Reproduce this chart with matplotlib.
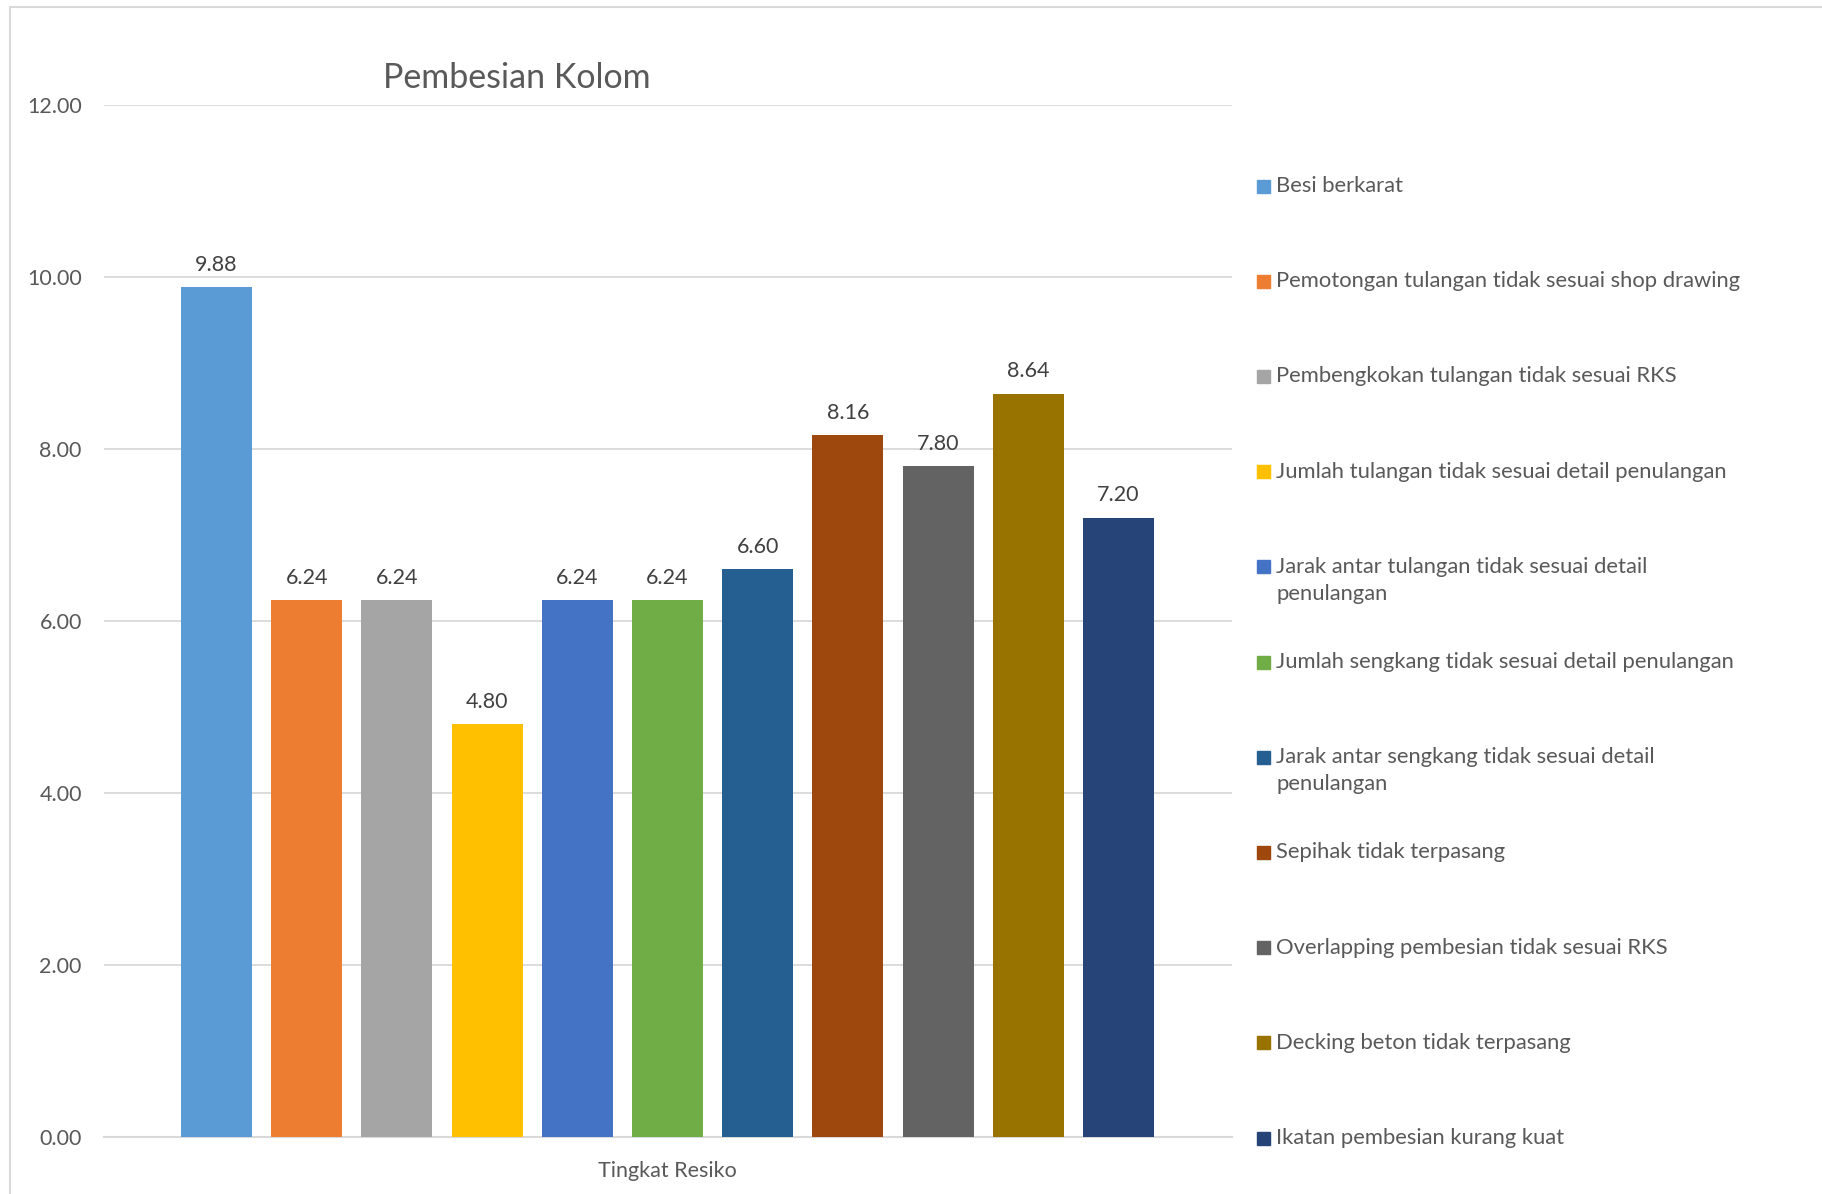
import matplotlib.pyplot as plt
from matplotlib.patches import Rectangle
from matplotlib.lines import Line2D

plt.rcParams['font.family'] = ['Lato', 'DejaVu Sans']

# data
categories = ['Besi berkarat',
              'Pemotongan tulangan tidak sesuai shop drawing',
              'Pembengkokan tulangan tidak sesuai RKS',
              'Jumlah tulangan tidak sesuai detail penulangan',
              'Jarak antar tulangan tidak sesuai detail\npenulangan',
              'Jumlah sengkang tidak sesuai detail penulangan',
              'Jarak antar sengkang tidak sesuai detail\npenulangan',
              'Sepihak tidak terpasang',
              'Overlapping pembesian tidak sesuai RKS',
              'Decking beton tidak terpasang',
              'Ikatan pembesian kurang kuat']
values = [9.88, 6.24, 6.24, 4.80, 6.24, 6.24, 6.60, 8.16, 7.80, 8.64, 7.20]
colors = ['#5B9BD5', '#ED7D31', '#A5A5A5', '#FFC000', '#4472C4', '#70AD47',
          '#255E91', '#9E480E', '#636363', '#997300', '#264478']
group_label = 'Tingkat Resiko'
yticks = [0, 2, 4, 6, 8, 10, 12]

W, H = 1822, 1194
fig = plt.figure(figsize=(W / 100, H / 100), dpi=100)
ax = fig.add_axes([104 / W, 1 - 1137 / H, 1128 / W, 1032 / H])

x = list(range(len(values)))
bars = ax.bar(x, values, width=0.787, color=colors, zorder=3)
ax.bar_label(bars, labels=['%.2f' % v for v in values], padding=9,
             fontsize=15.5, color='#404040')

ax.set_xlim(-1.247, 11.258)
ax.set_ylim(0, 12)
ax.set_yticks(yticks)
ax.set_yticklabels(['%.2f' % t for t in yticks])
ax.set_xticks([5])
ax.set_xticklabels([group_label])
ax.tick_params(axis='y', length=0, pad=16, labelsize=15.5, labelcolor='#595959')
ax.tick_params(axis='x', length=0, pad=17, labelsize=15.5, labelcolor='#595959')
ax.grid(axis='y', color='#D9D9D9', linewidth=1.3, zorder=0)
for s in ['top', 'right', 'left']:
    ax.spines[s].set_visible(False)
ax.spines['bottom'].set_color('#D9D9D9')
ax.spines['bottom'].set_linewidth(1.5)

fig.text(517 / W, 1 - 78 / H, 'Pembesian Kolom', ha='center', va='center',
         fontsize=24.5, color='#595959')

# legend on the right
for i, (lab, c) in enumerate(zip(categories, colors)):
    yc = 186 + i * 95.2
    fig.patches.append(Rectangle((1257 / W, 1 - (yc + 6.5) / H), 13 / W, 13 / H,
                                 transform=fig.transFigure, color=c))
    fig.text(1276 / W, 1 - (yc - 10) / H, lab, ha='left', va='top',
             fontsize=15.8, color='#595959', linespacing=1.45)

# frame lines of the chart area
fig.add_artist(Line2D([10 / W, 10 / W], [0, 1 - 7 / H], color='#D9D9D9',
                      linewidth=1.5, transform=fig.transFigure))
fig.add_artist(Line2D([10 / W, 1], [1 - 7 / H, 1 - 7 / H], color='#D9D9D9',
                      linewidth=1.5, transform=fig.transFigure))

fig.savefig('out.png', dpi=100)
